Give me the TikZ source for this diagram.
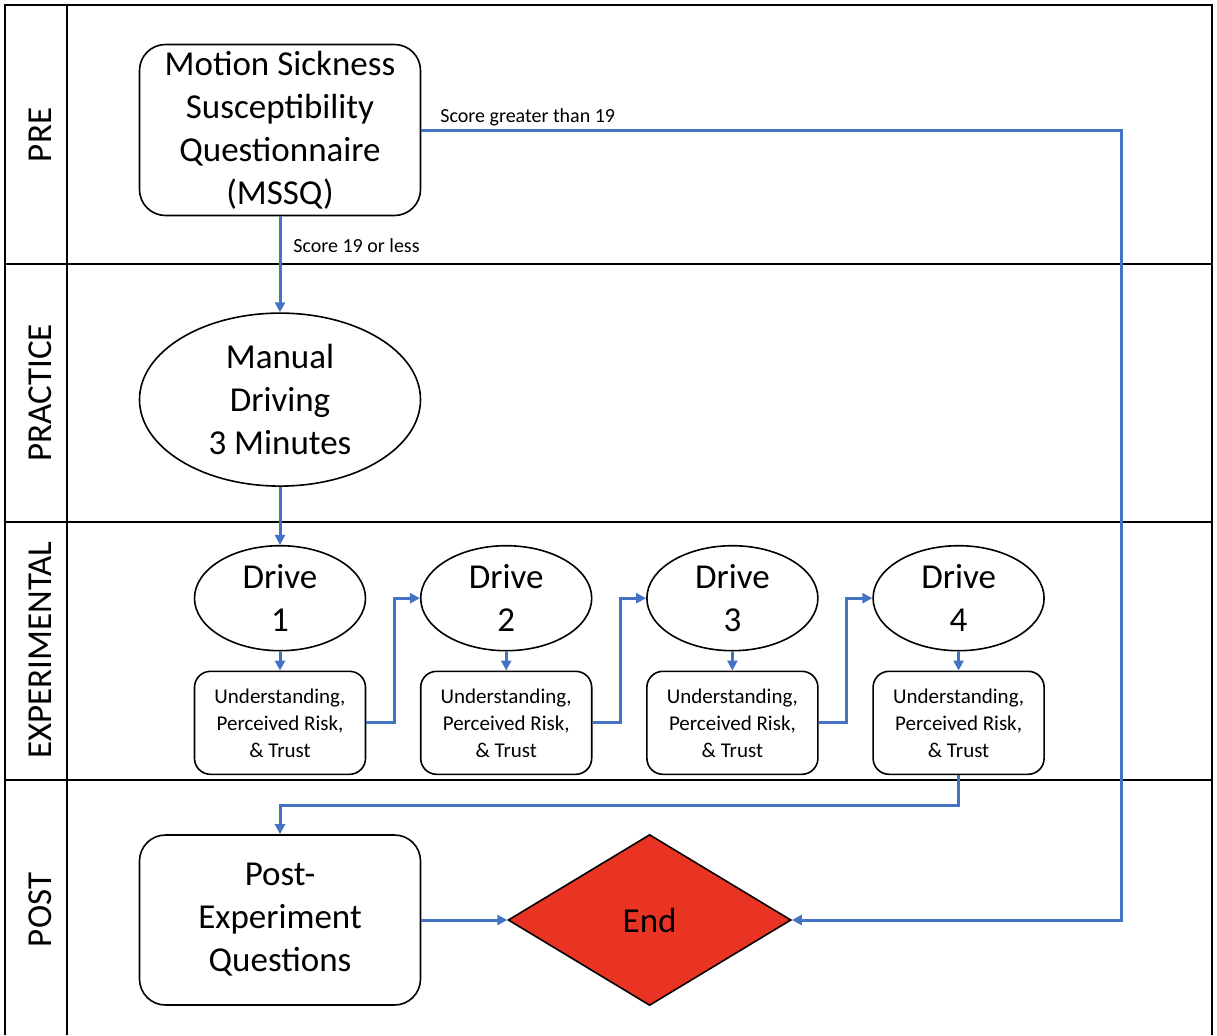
\documentclass[tikz,border=0pt]{standalone}
\usepackage{fontspec}
\setmainfont{Carlito}
\usetikzlibrary{positioning,shapes.geometric,arrows.meta}

\definecolor{flowblue}{RGB}{68,114,196}
\definecolor{endred}{RGB}{233,51,35}

\tikzset{
  bigtext/.style={font=\fontsize{17.5}{21.5}\selectfont, align=center},
  stepbox/.style={draw, rounded corners=13pt, line width=0.8pt, inner sep=0pt,
    minimum width=140.5pt, minimum height=85.5pt, bigtext},
  oval/.style={draw, ellipse, line width=0.8pt, inner sep=0pt, bigtext},
  askbox/.style={draw, rounded corners=8pt, line width=0.8pt, inner sep=0pt,
    minimum width=85.5pt, minimum height=51.5pt, align=center,
    font=\fontsize{10.5}{13.5}\selectfont},
  flow/.style={draw=flowblue, line width=1.5pt, -{Triangle[length=5pt,width=5pt]}},
  lane/.style={rotate=90, font=\fontsize{17.5}{20}\selectfont},
  note/.style={font=\fontsize{10}{12}\selectfont, anchor=west, inner sep=0pt},
}

\begin{document}
\begin{tikzpicture}[x=0.5pt,y=-0.5pt]
  \useasboundingbox (0,0) rectangle (1217,1035);

  % swim lanes
  \draw[line width=1pt] (5,1035) -- (5,5) -- (1212,5) -- (1212,1035);
  \draw[line width=1pt] (67,5) -- (67,1035);
  \draw[line width=1pt] (5,264) -- (1212,264);
  \draw[line width=1pt] (5,522) -- (1212,522);
  \draw[line width=1pt] (5,780) -- (1212,780);

  \node[lane] (pre) at (40,135) {PRE};
  \node[lane] (practice) at (40,393) {PRACTICE};
  \node[lane] (experimental) at (40,650) {EXPERIMENTAL};
  \node[lane] (postlane) at (40,910) {POST};

  % steps
  \node[stepbox] (mssq) at (280,130) {Motion Sickness\\Susceptibility\\Questionnaire\\(MSSQ)};
  \node[oval, minimum width=140.5pt, minimum height=86.5pt, below=48pt of mssq] (manual) {Manual\\Driving\\3 Minutes};

  \node[oval, minimum width=85.5pt, minimum height=52.5pt, below=29pt of manual] (drive1) {Drive\\1};
  \node[oval, minimum width=85.5pt, minimum height=52.5pt, right=26.8pt of drive1] (drive2) {Drive\\2};
  \node[oval, minimum width=85.5pt, minimum height=52.5pt, right=26.8pt of drive2] (drive3) {Drive\\3};
  \node[oval, minimum width=85.5pt, minimum height=52.5pt, right=26.8pt of drive3] (drive4) {Drive\\4};

  \node[askbox, below=9.5pt of drive1] (ask1) {Understanding,\\Perceived Risk,\\\& Trust};
  \node[askbox, below=9.5pt of drive2] (ask2) {Understanding,\\Perceived Risk,\\\& Trust};
  \node[askbox, below=9.5pt of drive3] (ask3) {Understanding,\\Perceived Risk,\\\& Trust};
  \node[askbox, below=9.5pt of drive4] (ask4) {Understanding,\\Perceived Risk,\\\& Trust};

  \node[stepbox, minimum height=85pt] (post) at (280,920) {Post-\\Experiment\\Questions};
  \node[draw, diamond, fill=endred, line width=0.8pt, inner sep=0pt,
    minimum width=141.5pt, minimum height=85.5pt, bigtext,
    right=43pt of post] (stop) {End};

  \coordinate (rail) at (1121,131);

  % flow
  \draw[flow] (mssq.south) -- (manual.north);
  \draw[flow] (manual.south) -- (drive1.north);
  \draw[flow] (mssq.east) -- (mssq.east -| rail) -- (rail |- stop.east) -- (stop.east);

  \draw[flow] (drive1.south) -- (ask1.north);
  \draw[flow] (drive2.south) -- (ask2.north);
  \draw[flow] (drive3.south) -- (ask3.north);
  \draw[flow] (drive4.south) -- (ask4.north);

  \draw[flow] (ask1.east) -- ++(28,0) |- (drive2.west);
  \draw[flow] (ask2.east) -- ++(28,0) |- (drive3.west);
  \draw[flow] (ask3.east) -- ++(28,0) |- (drive4.west);

  \draw[flow] (ask4.south) -- ++(0,30) -| (post.north);
  \draw[flow] (post.east) -- (stop.west);

  % branch labels
  \node[note] (low) at (293,246) {Score 19 or less};
  \node[note] (high) at (440,117) {Score greater than 19};
\end{tikzpicture}
\end{document}
